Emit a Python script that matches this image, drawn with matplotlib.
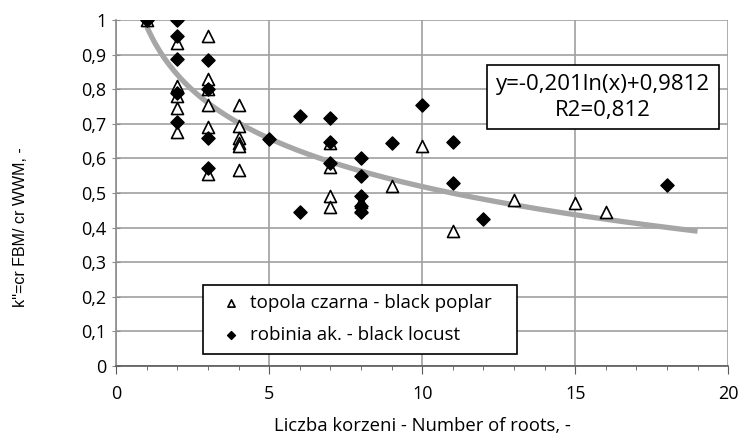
import numpy as np
import matplotlib.pyplot as plt
from matplotlib.ticker import MultipleLocator, FuncFormatter

plt.rcParams['font.family'] = ['Open Sans', 'DejaVu Sans']

# topola czarna - black poplar (open triangles)
poplar_x = [1, 2, 2, 2, 2, 2, 3, 3, 3, 3, 3, 3, 4, 4, 4, 4, 4, 4,
            7, 7, 7, 7, 8, 8, 9, 10, 11, 13, 15, 16]
poplar_y = [1.0, 0.935, 0.81, 0.78, 0.745, 0.675, 0.955, 0.83, 0.80, 0.755, 0.69, 0.555,
            0.755, 0.695, 0.66, 0.645, 0.635, 0.565,
            0.645, 0.575, 0.49, 0.458, 0.475, 0.46, 0.52, 0.635, 0.39, 0.48, 0.47, 0.445]

# robinia ak. - black locust (filled diamonds)
locust_x = [1, 2, 2, 2, 2, 2, 3, 3, 3, 3, 5, 6, 6, 7, 7, 7,
            8, 8, 8, 8, 8, 9, 10, 11, 11, 12, 18]
locust_y = [1.0, 1.0, 0.955, 0.888, 0.79, 0.706, 0.885, 0.80, 0.66, 0.572, 0.657,
            0.723, 0.445, 0.717, 0.648, 0.588, 0.60, 0.548, 0.49, 0.462, 0.445,
            0.645, 0.753, 0.648, 0.53, 0.426, 0.522]

# trend line y = a*ln(x) + b
a, b = -0.201, 0.9812
trend_x = np.linspace(1, 19, 200)
trend_y = a * np.log(trend_x) + b

fig = plt.figure(figsize=(7.4, 4.36), dpi=100)
ax = fig.add_axes([0.157, 0.161, 0.827, 0.793])

ax.plot(trend_x, trend_y, color='#a6a6a6', lw=3.8, solid_capstyle='butt', zorder=2)
ax.scatter(poplar_x, poplar_y, marker='^', s=75, facecolor='white', edgecolor='black',
           linewidth=1.2, zorder=3, label='topola czarna - black poplar')
ax.scatter(locust_x, locust_y, marker='D', s=45, color='black', zorder=4,
           label='robinia ak. - black locust')

ax.set_xlim(0, 20)
ax.set_ylim(0, 1)
ax.xaxis.set_major_locator(MultipleLocator(5))
ax.xaxis.set_minor_locator(MultipleLocator(1))
ax.yaxis.set_major_locator(MultipleLocator(0.1))
ax.yaxis.set_major_formatter(FuncFormatter(lambda v, p: ('%g' % round(v, 1)).replace('.', ',')))

ax.grid(True, which='major', color='#a0a0a0', lw=1.2)
ax.set_axisbelow(True)
for s in ['top', 'right']:
    ax.spines[s].set_visible(False)
ax.spines['left'].set_color('#8c8c8c')
ax.spines['bottom'].set_color('#5a5a5a')
ax.spines['left'].set_linewidth(1.2)
ax.spines['bottom'].set_linewidth(1.2)
ax.tick_params(axis='y', which='major', length=6, direction='inout', color='#8c8c8c',
               labelsize=13, pad=4)
ax.tick_params(axis='x', which='major', length=6, direction='out', color='#5a5a5a',
               labelsize=13, pad=8)
ax.tick_params(axis='x', which='minor', length=3, direction='out', color='#5a5a5a')

ax.set_xlabel('Liczba korzeni - Number of roots, -', fontsize=13.3)
ax.xaxis.set_label_coords(0.5, -0.147)
ax.set_ylabel("k''=cr FBM/ cr WWM, -", fontsize=11.5, family=['Liberation Sans', 'DejaVu Sans'])
ax.yaxis.set_label_coords(-0.144, 0.40)

leg = ax.legend(loc='lower left', bbox_to_anchor=(0.142, 0.035, 0.513, 0.217), mode='expand',
                borderaxespad=0, fontsize=13.5, frameon=True, fancybox=False, edgecolor='black',
                handletextpad=0.0, labelspacing=0.75, borderpad=0.5, handlelength=2.0,
                markerscale=0.6)
leg.get_frame().set_linewidth(1.2)
leg.get_frame().set_alpha(1)

ax.text(0.795, 0.777, 'y=-0,201ln(x)+0,9812\nR2=0,812', transform=ax.transAxes,
        ha='center', va='center', fontsize=16, linespacing=1.3, zorder=5,
        bbox=dict(boxstyle='square,pad=0.4', facecolor='white', edgecolor='black', lw=1.2))

fig.savefig('out.png', dpi=100)
